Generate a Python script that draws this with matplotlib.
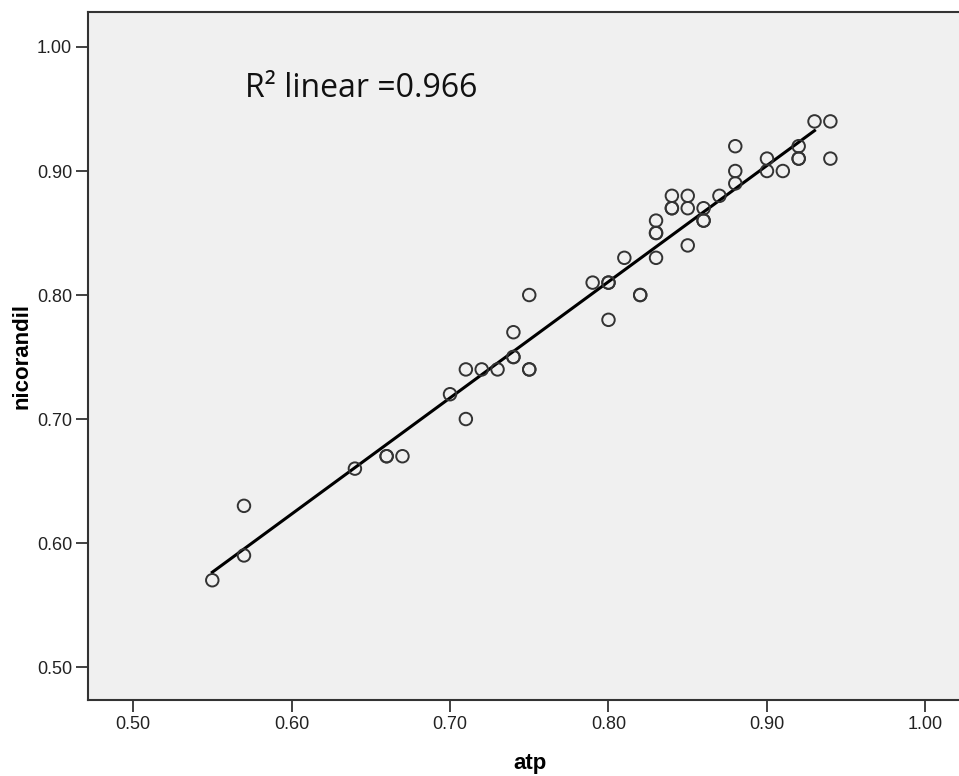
import numpy as np
import matplotlib.pyplot as plt

# Punten (dubbele punten komen twee keer voor)
atp = [0.55, 0.57, 0.57, 0.64, 0.66, 0.66, 0.67,
       0.70, 0.71, 0.71, 0.72, 0.73, 0.74, 0.74, 0.74, 0.75, 0.75, 0.75,
       0.79, 0.80, 0.80, 0.80, 0.81, 0.82, 0.82,
       0.83, 0.83, 0.83, 0.83, 0.84, 0.84, 0.84, 0.85, 0.85, 0.85,
       0.86, 0.86, 0.86, 0.87, 0.88, 0.88, 0.88,
       0.90, 0.90, 0.91, 0.92, 0.92, 0.92, 0.93, 0.94, 0.94]
nicorandil = [0.57, 0.63, 0.59, 0.66, 0.67, 0.67, 0.67,
              0.72, 0.74, 0.70, 0.74, 0.74, 0.77, 0.75, 0.75, 0.80, 0.74, 0.74,
              0.81, 0.81, 0.81, 0.78, 0.83, 0.80, 0.80,
              0.86, 0.85, 0.85, 0.83, 0.88, 0.87, 0.87, 0.88, 0.87, 0.84,
              0.87, 0.86, 0.86, 0.88, 0.92, 0.90, 0.89,
              0.91, 0.90, 0.90, 0.92, 0.91, 0.91, 0.94, 0.94, 0.91]
fit_x = [0.55, 0.93]
r2_text = "R\u00b2 linear =0.966"
ticks = [0.50, 0.60, 0.70, 0.80, 0.90, 1.00]

x = np.array(atp)
y = np.array(nicorandil)
slope, intercept = np.polyfit(x, y, 1)
fx = np.array(fit_x)

plt.rcParams['font.family'] = ['Liberation Sans', 'DejaVu Sans']

fig = plt.figure(figsize=(9.59, 7.76), dpi=100)
ax = fig.add_axes([0.0918, 0.0979, 0.9228, 0.8866])
ax.set_facecolor('#f0f0f0')

ax.scatter(x, y, s=9**2, facecolors='none', edgecolors='#333333', linewidths=1.4, zorder=3)
ax.plot(fx, slope * fx + intercept, color='black', lw=2.2, zorder=2)

ax.text(0.5707, 0.9597, r2_text, fontsize=23, family=['Open Sans', 'DejaVu Sans'],
        ha='left', va='baseline', color='#111111')

ax.set_xlim(0.4716, 1.03)
ax.set_ylim(0.4734, 1.0282)
ax.set_xticks(ticks)
ax.set_yticks(ticks)
ax.set_xticklabels([f"{t:.2f}" for t in ticks])
ax.set_yticklabels([f"{t:.2f}" for t in ticks])
ax.tick_params(direction='out', length=8.5, width=1.3, color='#333333',
               labelsize=13, labelcolor='#222222', pad=3)

for side in ['left', 'bottom', 'top']:
    ax.spines[side].set_color('#333333')
    ax.spines[side].set_linewidth(1.5)
ax.spines['right'].set_visible(False)

# Aslabels met fig.text zodat ze niet buiten beeld vallen
fig.text(530 / 959, 7 / 776, 'atp', fontsize=16, weight='bold', ha='center', va='baseline')
fig.text(22 / 959, 1 - 356 / 776, 'nicorandil', fontsize=16, weight='bold',
         ha='center', va='center', rotation=90)

fig.savefig('out.png', dpi=100)
